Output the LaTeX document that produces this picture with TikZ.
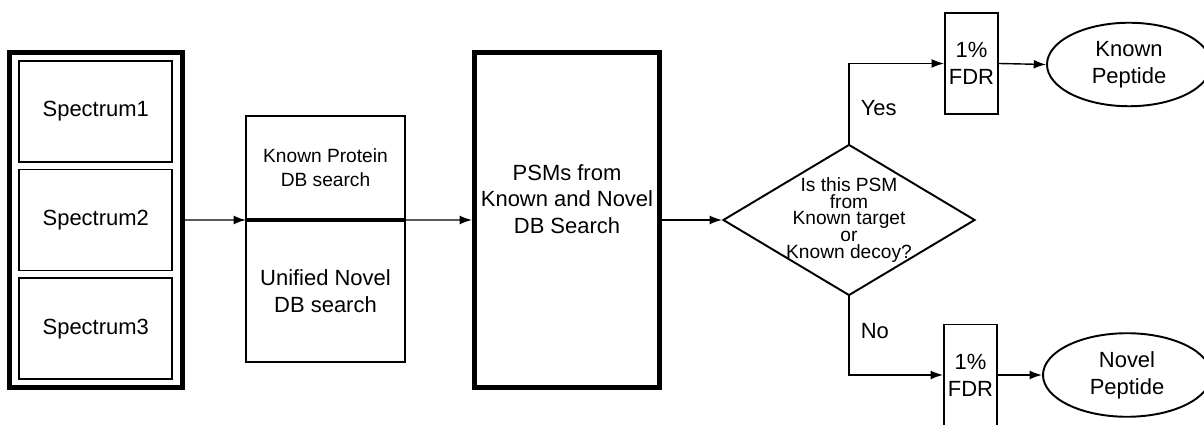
\documentclass[tikz,border=0pt]{standalone}
\usepackage{fontspec}
\setmainfont{Liberation Sans}
\usepackage{tikz}
\usetikzlibrary{arrows.meta,calc}
\usetikzlibrary{positioning,shapes,shapes.geometric}
\tikzstyle{line}=[-{Latex[length=7pt,width=5pt]}, line width=0.8pt]
\tikzstyle{outer}=[rectangle, draw, line width=2.8pt, minimum width=3.46cm,
		minimum height=6.7cm, align=center]
\tikzstyle{spec}=[rectangle, draw, line width=1.1pt, minimum width=3.06cm,
		minimum height=2.02cm]
\tikzstyle{dbbox}=[rectangle, draw, line width=1.1pt, minimum width=3.18cm,
		align=center, outer sep=0pt]
\tikzstyle{fdr}=[rectangle, draw, line width=1.1pt, minimum width=1.06cm,
		minimum height=2.02cm, align=center, inner sep=0pt]
\tikzstyle{result}=[ellipse, draw, line width=1.1pt, minimum height=1.67cm,
		align=center]
\tikzstyle{decision}=[diamond, draw, line width=1.1pt, aspect=1.67,
		minimum width=5.04cm, minimum height=3.02cm, inner sep=-3pt,
		align=center, font=\fontsize{10.9}{9.6}\selectfont]

\begin{document}
\begin{tikzpicture}[font=\fontsize{12.5}{15.3}\selectfont]
    \useasboundingbox (0,0) rectangle (24.08,-8.5);

    \node (Spectra) [outer] at (1.915,-4.40) {};
    \node (Spec2) [spec] at (Spectra) {Spectrum2};
    \node (Spec1) [spec, above=0.12cm of Spec2] {Spectrum1};
    \node (Spec3) [spec, below=0.12cm of Spec2] {Spectrum3};

    \node (KnownDB) [dbbox, minimum height=2.08cm,
    		font=\fontsize{10.9}{13.6}\selectfont] at (6.51,-3.36)
    	{Known Protein\\DB search};
    \node (NovelDB) [dbbox, minimum height=2.84cm, below=0pt of KnownDB]
    	{Unified Novel\\DB search};
    \draw [line width=2.3pt] (KnownDB.south west) -- (KnownDB.south east);

    \node (PSMs) [outer, minimum width=3.7cm] at (11.34,-4.40)
    	{PSMs from\\Known and Novel\\DB Search\\[0.3cm]};
    \node (Check) [decision] at (16.98,-4.40)
    	{Is this PSM\\from\\Known target\\or\\Known decoy?};

    \node (FdrKnown) [fdr] at (19.43,-1.27) {1\%\\FDR};
    \node (FdrNovel) [fdr] at (19.41,-7.50) {1\%\\FDR};
    \node (KnownPep) [result, minimum width=3.28cm] at (22.58,-1.29)
    	{Known\\Peptide};
    \node (NovelPep) [result, minimum width=3.36cm] at (22.54,-7.50)
    	{Novel\\Peptide};

    \draw [line] (Spectra.east) -- (KnownDB.south west);
    \draw [line] (KnownDB.south east) -- (PSMs.west);
    \draw [line] (PSMs.east) -- (Check.west);
    \draw [line] (Check.north) |- node[pos=0.22, right=3pt] {Yes} (FdrKnown.west);
    \draw [line] (Check.south) |- node[pos=0.22, right=3pt] {No} (FdrNovel.west);
    \draw [line] (FdrKnown.east) -- (KnownPep.west);
    \draw [line] (FdrNovel.east) -- (NovelPep.west);

\end{tikzpicture}
\end{document}
